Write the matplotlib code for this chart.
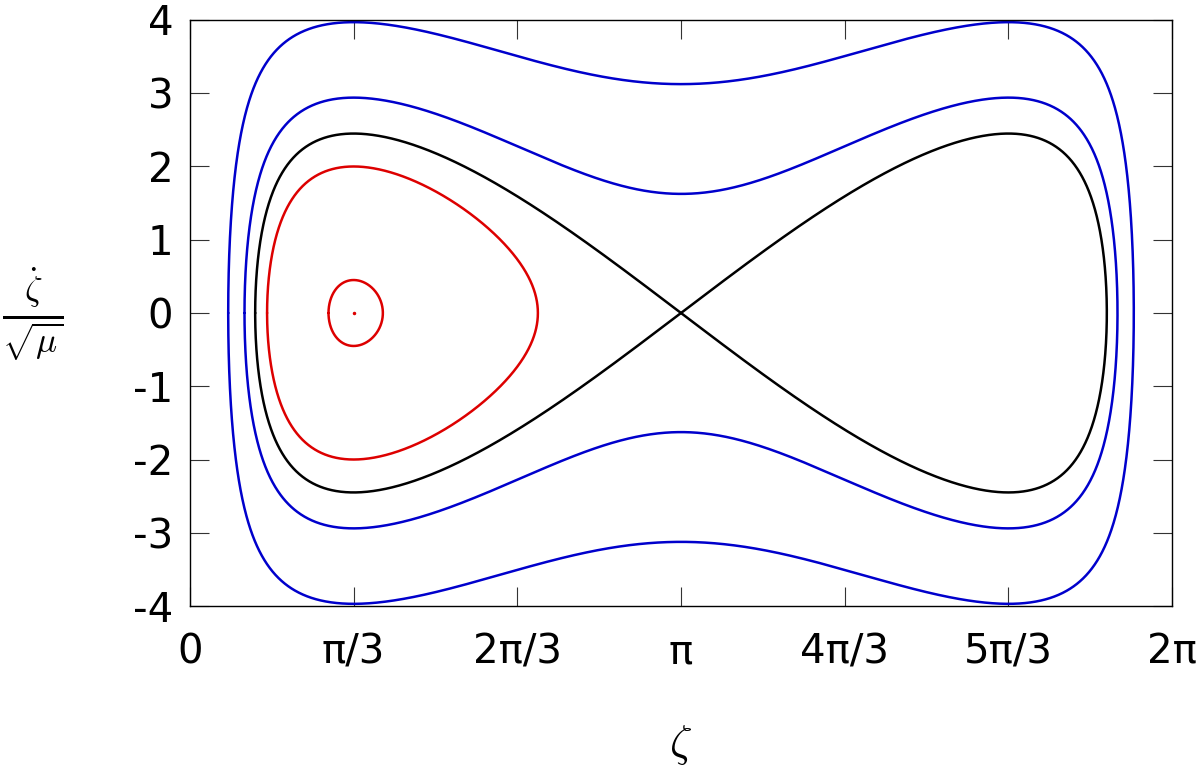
import numpy as np
import matplotlib
matplotlib.use("Agg")
import matplotlib.pyplot as plt

plt.rcParams["mathtext.fontset"] = "cm"
plt.rcParams["axes.unicode_minus"] = False

# peak of zeta_dot/sqrt(mu) at zeta = pi/3 for each orbit
peaks = [0.45, 2.0, 2.449, 2.94, 3.97]
colors = ["#dd0000", "#dd0000", "black", "#0000cc", "#0000cc"]

xticks = [0, np.pi/3, 2*np.pi/3, np.pi, 4*np.pi/3, 5*np.pi/3, 2*np.pi]
xticklabels = ["0", "π/3", "2π/3", "π", "4π/3", "5π/3", "2π"]
yticks = [-4, -3, -2, -1, 0, 1, 2, 3, 4]


def V(z):
    # co-orbital potential (per 3 mu)
    return -np.cos(z) + 1.0/(2*np.sin(z/2))


def root(C, lo, hi):
    # bisection for V(z) = C between lo and hi
    flo = V(lo) - C
    for _ in range(80):
        mid = 0.5*(lo + hi)
        fm = V(mid) - C
        if (fm > 0) == (flo > 0):
            lo, flo = mid, fm
        else:
            hi = mid
    return 0.5*(lo + hi)


def orbit(C):
    a = root(C, 1e-6, np.pi/3)
    if C < V(np.pi):
        b = root(C, np.pi/3, np.pi)
    else:
        b = 2*np.pi - a
    t = np.linspace(0, np.pi, 1500)
    z = a + (b - a)*(1 - np.cos(t))/2
    v = np.sqrt(np.clip(6*(C - V(z)), 0, None))
    zz = np.concatenate([z, z[::-1], z[:1]])
    vv = np.concatenate([v, -v[::-1], v[:1]])
    return zz, vv


fig = plt.figure(figsize=(12, 7.68), dpi=100)
ax = fig.add_axes([0.1583, 0.2109, 0.8184, 0.7631])

for p, c in zip(peaks, colors):
    C = V(np.pi/3) + p**2/6
    if abs(C - V(np.pi)) < 1e-3:
        C = V(np.pi)
    zz, vv = orbit(C)
    ax.plot(zz, vv, color=c, lw=1.8, solid_joinstyle="round",
            solid_capstyle="round")

ax.plot([np.pi/3], [0], "o", color="#dd0000", ms=1.5)

ax.set_xlim(0, 2*np.pi)
ax.set_ylim(-4, 4)
ax.set_xticks(xticks)
ax.set_xticklabels(xticklabels)
ax.set_yticks(yticks)
ax.tick_params(direction="in", length=14, width=0.8, color="#333333",
               top=True, right=True, labelsize=29)
ax.tick_params(axis="x", pad=19)
ax.tick_params(axis="y", pad=12)
for s in ax.spines.values():
    s.set_linewidth(1.0)

fig.text(0.027, 0.592, r"$\frac{\dot{\zeta}}{\sqrt{\mu}}$", fontsize=36,
         ha="center", va="center")
fig.text(0.567, 0.03, r"$\zeta$", fontsize=32, ha="center", va="center")

fig.savefig("out.png")
